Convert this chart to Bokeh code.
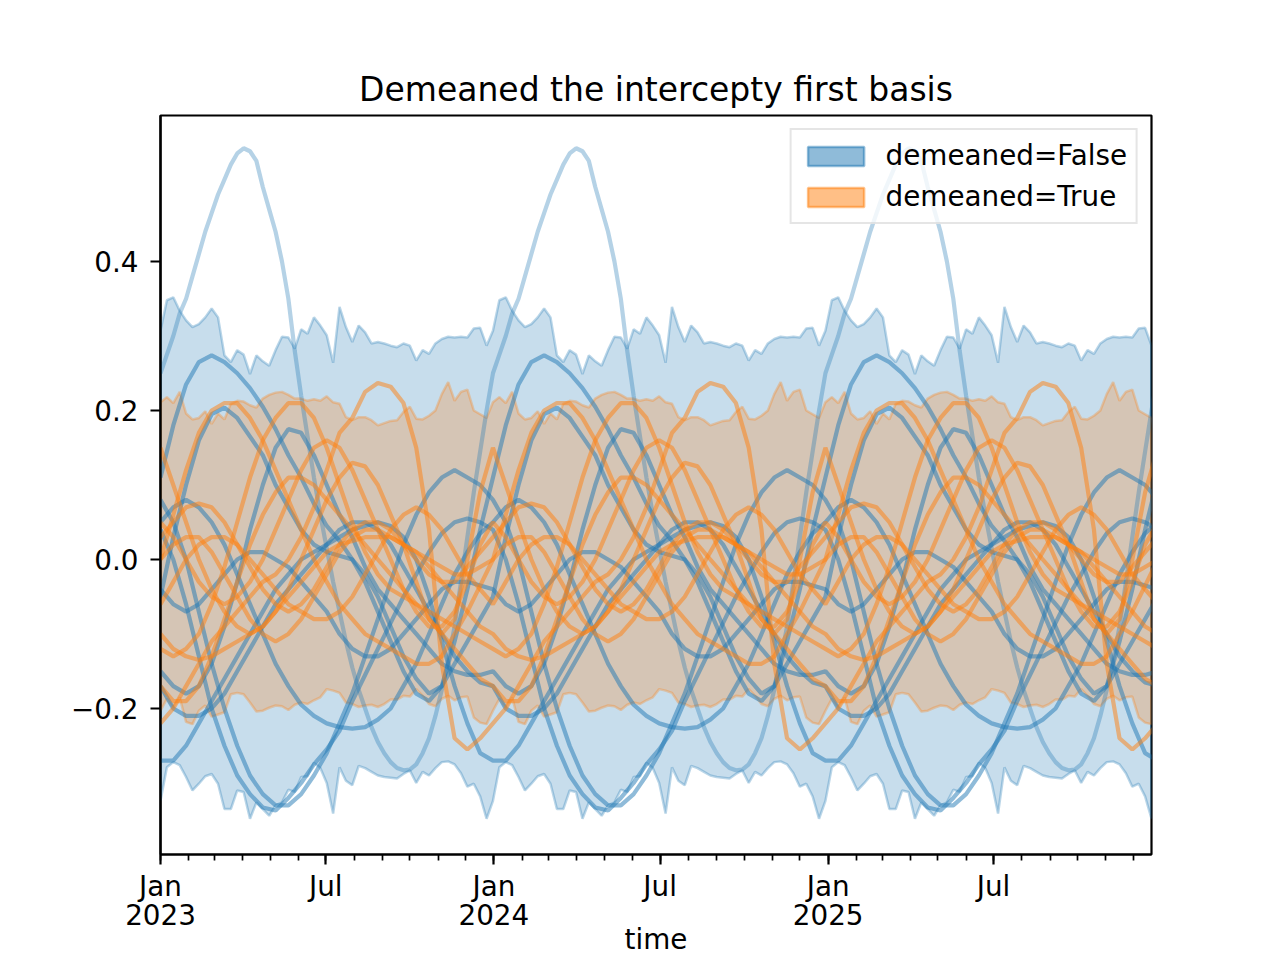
import numpy as np
import pandas as pd
from bokeh.plotting import figure
from bokeh.models import Range1d, FixedTicker, Legend, LegendItem
from bokeh.embed import file_html
from bokeh.resources import INLINE

# ---------------- data (one year, repeated for 2023-2025) ----------------
# weekly HDI band edges (52 weeks of a year)
blue_upper = [.307, .348, .352, .334, .321, .312, .316, .325, .337, .325, .274, .265, .281,
              .275, .249, .274, .266, .260, .281, .299, .298, .283, .309, .303, .325, .314,
              .301, .264, .339, .312, .292, .314, .305, .290, .292, .290, .287, .285, .290,
              .287, .267, .281, .276, .290, .296, .299, .298, .299, .298, .310, .311, .287]
blue_lower = [-.324, -.279, -.272, -.276, -.292, -.310, -.301, -.291, -.288, -.301, -.335, -.335, -.310,
              -.312, -.348, -.326, -.335, -.344, -.330, -.326, -.309, -.312, -.292, -.291, -.273, -.280,
              -.300, -.341, -.279, -.297, -.303, -.277, -.280, -.285, -.290, -.292, -.293, -.294, -.288,
              -.283, -.300, -.285, -.290, -.280, -.272, -.271, -.275, -.287, -.305, -.301, -.318, -.348]
orange_upper = [.211, .218, .210, .225, .196, .188, .190, .199, .182, .196, .188, .209, .213,
                .212, .207, .204, .216, .221, .224, .225, .221, .216, .216, .213, .215, .213,
                .219, .211, .209, .191, .187, .191, .191, .187, .180, .183, .186, .187, .198,
                .205, .189, .188, .193, .200, .222, .238, .213, .225, .228, .200, .195, .190]
orange_lower = [-.203, -.187, -.199, -.185, -.218, -.221, -.203, -.196, -.211, -.208, -.205, -.181, -.179,
                -.181, -.192, -.204, -.203, -.199, -.196, -.197, -.202, -.195, -.192, -.194, -.189, -.185,
                -.174, -.176, -.179, -.192, -.194, -.198, -.196, -.195, -.198, -.194, -.188, -.188, -.183,
                -.184, -.174, -.183, -.194, -.197, -.187, -.183, -.189, -.185, -.184, -.212, -.219, -.221]

# sample curves through the year: the first one weekly (52 values), the others every two weeks (26 values)
blue_curves = [
    [.25, .275, .30, .33, .35, .38, .41, .44, .465, .49, .51, .53, .545, .552, .548, .535, .50, .47, .44,
     .40, .35, .28, .22, .165, .11, .06, .015, -.03, -.07, -.11, -.145, -.175, -.20, -.225, -.245, -.26,
     -.272, -.28, -.283, -.282, -.275, -.26, -.24, -.21, -.175, -.135, -.09, -.03, .03, .09, .145, .20],
    [.11, .18, .235, .265, .274, .265, .25, .23, .205, .175, .14, .11, .075, .045, .025, .0, -.03, -.07, -.11, -.15, -.18, -.19, -.17, -.11, -.04, .04],
    [-.05, .03, .10, .16, .195, .204, .19, .165, .14, .10, .07, .04, .02, .01, .005, .0, -.02, -.05, -.09, -.13, -.16, -.18, -.17, -.14, -.11, -.08],
    [-.15, -.17, -.18, -.17, -.14, -.09, -.03, .04, .10, .15, .175, .17, .14, .10, .06, .03, -.01, -.04, -.06, -.08, -.10, -.12, -.14, -.15, -.155, -.155],
    [.04, .0, -.06, -.13, -.20, -.25, -.29, -.315, -.333, -.337, -.32, -.30, -.275, -.255, -.23, -.19, -.155, -.12, -.085, -.05, -.02, .01, .035, .05, .055, .05],
    [.08, .05, .0, -.07, -.14, -.20, -.25, -.29, -.315, -.33, -.33, -.315, -.29, -.26, -.22, -.18, -.13, -.08, -.03, .02, .06, .09, .11, .12, .11, .10],
    [-.27, -.27, -.25, -.22, -.19, -.16, -.13, -.10, -.07, -.04, -.02, .0, .01, .02, .03, .04, .045, .05, .045, .03, .0, -.05, -.11, -.17, -.22, -.26],
    [-.17, -.20, -.21, -.21, -.20, -.18, -.15, -.12, -.09, -.06, -.04, -.02, .0, .02, .04, .05, .05, .04, .02, -.01, -.04, -.07, -.10, -.13, -.15, -.165],
    [-.04, -.06, -.07, -.06, -.04, -.02, .0, .01, .01, .0, -.01, -.03, -.05, -.07, -.10, -.12, -.13, -.13, -.12, -.10, -.08, -.06, -.04, -.03, -.03, -.035],
    [.05, .07, .08, .07, .05, .02, -.02, -.06, -.10, -.14, -.17, -.195, -.21, -.22, -.225, -.227, -.225, -.215, -.20, -.17, -.14, -.10, -.06, -.02, .01, .035],
]
orange_curves = [
    [-.22, -.20, -.17, -.14, -.11, -.09, -.07, -.05, -.03, -.02, .0, .03, .07, .12, .17, .19, .225, .237, .232, .21, .15, .04, -.14, -.24, -.255, -.24],
    [.0, .06, .12, .17, .20, .21, .21, .19, .16, .12, .08, .04, .0, -.03, -.06, -.08, -.10, -.11, -.12, -.13, -.14, -.14, -.13, -.10, -.07, -.035],
    [-.12, -.13, -.12, -.10, -.06, -.01, .05, .11, .16, .19, .21, .21, .19, .15, .10, .05, .01, -.02, -.04, -.05, -.06, -.07, -.08, -.09, -.10, -.11],
    [.05, .03, .0, -.03, -.05, -.06, -.05, -.03, .0, .04, .08, .12, .15, .16, .15, .12, .08, .04, .0, -.04, -.07, -.09, -.09, -.07, -.03, .02],
    [-.10, -.12, -.13, -.135, -.13, -.12, -.11, -.10, -.09, -.07, -.05, -.03, -.01, .01, .02, .025, .03, .03, .03, .02, .01, -.01, -.03, -.05, -.07, -.09],
    [.03, .05, .07, .075, .07, .05, .02, -.01, -.04, -.06, -.07, -.06, -.04, -.01, .02, .04, .05, .05, .04, .02, .0, -.02, -.03, -.03, -.01, .01],
    [-.06, -.03, .0, .02, .03, .03, .02, .0, -.02, -.04, -.06, -.07, -.08, -.08, -.07, -.05, -.02, .01, .04, .06, .07, .06, .04, .01, -.02, -.04],
    [.15, .10, .05, .0, -.04, -.07, -.09, -.10, -.09, -.07, -.04, .0, .04, .08, .11, .13, .125, .10, .06, .02, -.03, -.08, -.10, -.08, .0, .09],
    [-.17, -.19, -.19, -.17, -.13, -.08, -.03, .02, .06, .09, .11, .11, .10, .08, .06, .04, .02, .0, -.02, -.04, -.06, -.08, -.10, -.12, -.14, -.16],
    [.0, .02, .03, .03, .01, -.02, -.05, -.08, -.10, -.11, -.10, -.08, -.05, -.02, .01, .03, .04, .04, .03, .02, .01, .0, -.01, -.02, -.02, -.01],
]
blue_alphas = [0.33] + [0.5] * (len(blue_curves) - 1)

y_ticks = [-0.2, 0.0, 0.2, 0.4]
y_tick_labels = ["\u22120.2", "0.0", "0.2", "0.4"]
x_major = ["2023-01-01", "2023-07-01", "2024-01-01", "2024-07-01", "2025-01-01", "2025-07-01"]
x_major_labels = ["Jan\n2023", "Jul", "Jan\n2024", "Jul", "Jan\n2025", "Jul"]

BLUE = "#1f77b4"
ORANGE = "#ff7f0e"

# ---------------- assemble series ----------------
weeks = pd.date_range("2023-01-01", periods=156, freq="7D")
n_years = 3


def tile(vals):
    return list(vals) * n_years


def curve_series(vals):
    step = 52 // len(vals)            # weeks between samples
    n = 156 // step + 1               # one extra point past the last week (clipped by frame)
    dates = pd.date_range("2023-01-01", periods=n, freq=f"{7 * step}D")
    return dates, [vals[j % len(vals)] for j in range(n)]


def ms(d):
    return pd.Timestamp(d).value / 1e6


p = figure(
    x_axis_type="datetime",
    frame_width=991, frame_height=739,
    min_border_left=160, min_border_right=129, min_border_top=115, min_border_bottom=100,
    output_backend="svg", toolbar_location=None,
    title="Demeaned the intercepty first basis",
)
p.x_range = Range1d(weeks[0], weeks[-1])
p.y_range = Range1d(-0.396, 0.596)
p.xgrid.visible = False
p.ygrid.visible = False
p.background_fill_color = "white"
p.border_fill_color = "white"
p.outline_line_color = "black"
p.outline_line_width = 2.2
p.outline_line_alpha = 1.0

p.title.align = "center"
p.title.text_font = "DejaVu Sans"
p.title.text_font_size = "33px"
p.title.text_font_style = "normal"
p.title.text_color = "black"
p.title.standoff = 14


def band(upper, lower, color):
    xs = list(weeks) + list(weeks[::-1])
    ys = tile(upper) + tile(lower)[::-1]
    p.patch(xs, ys, fill_color=color, fill_alpha=0.25, line_color=color, line_alpha=0.3, line_width=2.5)


def curves(cs, color, alphas):
    for c, a in zip(cs, alphas):
        d, v = curve_series(c)
        p.line(d, v, line_color=color, line_alpha=a, line_width=4.2)


band(blue_upper, blue_lower, BLUE)
band(orange_upper, orange_lower, ORANGE)
curves(blue_curves, BLUE, blue_alphas)
curves(orange_curves, ORANGE, [0.5] * len(orange_curves))

# axes
xt = FixedTicker(ticks=[ms(d) for d in x_major],
                 minor_ticks=[ms(d) for d in pd.date_range("2023-01-01", "2025-12-01", freq="MS")])
p.xaxis.ticker = xt
p.xaxis.major_label_overrides = {ms(d): lab for d, lab in zip(x_major, x_major_labels)}
p.yaxis.ticker = FixedTicker(ticks=y_ticks, minor_ticks=[])
p.yaxis.major_label_overrides = {t: lab for t, lab in zip(y_ticks, y_tick_labels)}

for ax in (p.xaxis[0], p.yaxis[0]):
    ax.major_label_text_font = "DejaVu Sans"
    ax.major_label_text_font_size = "27.8px"
    ax.major_label_text_color = "black"
    ax.axis_line_color = "black"
    ax.axis_line_width = 2.2
    ax.major_tick_line_width = 2.2
    ax.minor_tick_line_width = 1.7
    ax.major_tick_in = 0
    ax.major_tick_out = 10
    ax.minor_tick_in = 0
    ax.minor_tick_out = 6
p.yaxis.major_label_standoff = 12
p.xaxis.major_label_standoff = 5
p.xaxis.major_label_text_line_height = 0.9
p.xaxis.axis_label = "time"
p.xaxis.axis_label_text_font = "DejaVu Sans"
p.xaxis.axis_label_text_font_size = "27.8px"
p.xaxis.axis_label_text_font_style = "normal"
p.xaxis.axis_label_text_color = "black"
p.xaxis.axis_label_standoff = -12

# legend (dummy patches, outside of the visible range)
far_x = [weeks[0], weeks[1], weeks[2]]
lb = p.patch(far_x, [5, 6, 5], fill_color=BLUE, fill_alpha=0.5, line_color=BLUE, line_alpha=0.5, line_width=2.5)
lo = p.patch(far_x, [5, 6, 5], fill_color=ORANGE, fill_alpha=0.5, line_color=ORANGE, line_alpha=0.5, line_width=2.5)
legend = Legend(items=[LegendItem(label="demeaned=False", renderers=[lb]),
                       LegendItem(label="demeaned=True", renderers=[lo])],
                location="top_right")
legend.label_text_font = "DejaVu Sans"
legend.label_text_font_size = "27.8px"
legend.label_text_color = "black"
legend.glyph_width = 70
legend.glyph_height = 24
legend.label_standoff = 15
legend.padding = 9
legend.spacing = 8
legend.margin = 13
legend.border_line_color = "#cccccc"
legend.border_line_width = 2
legend.background_fill_alpha = 0.8
p.add_layout(legend)

open("out.html", "w").write(file_html(p, INLINE))
